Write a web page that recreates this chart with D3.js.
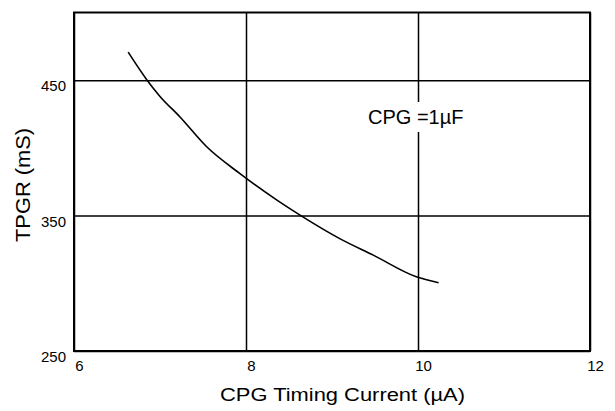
<!DOCTYPE html>
<html>
<head>
<meta charset="utf-8">
<script src="https://cdn.jsdelivr.net/npm/d3@7"></script>
<style>
  body { margin: 0; background: #fff; }
  svg { display: block; font-family: "Liberation Sans", Arial, sans-serif; }
</style>
</head>
<body>
<script>
// data
var currentUA = [6.63, 6.85, 7.0, 7.23, 7.54, 7.93, 8.36, 8.67, 9.09, 9.48, 9.98, 10.24];
var tpgrMs    = [470.7, 450, 438, 423, 401, 381, 361.4, 348.7, 333, 320.8, 304.8, 300.4];
var xTicks = [6, 8, 10, 12];
var yTicks = [250, 350, 450];
var noteText = "CPG =1\u00b5F";

var width = 615, height = 411;
var margin = {top: 12.5, right: 25, bottom: 60, left: 74};
var innerW = width - margin.left - margin.right,
    innerH = height - margin.top - margin.bottom;

var svg = d3.select("body").append("svg")
    .attr("width", width)
    .attr("height", height);

var g = svg.append("g")
    .attr("transform", "translate(" + margin.left + "," + margin.top + ")");

var x = d3.scaleLinear().domain([6, 12]).range([0, innerW]);
var y = d3.scaleLinear().domain([250, 500]).range([innerH, 0]);

// y axis + horizontal grid
var yAxis = g.append("g")
    .call(d3.axisLeft(y).tickValues(yTicks).tickSize(-innerW).tickPadding(8));
yAxis.select(".domain").remove();
yAxis.selectAll("line").attr("stroke", "#000").attr("stroke-width", 1.5);
yAxis.selectAll("text")
    .attr("dy", "0.71em")
    .attr("fill", "#000")
    .style("font-size", "15px");

// x axis + vertical grid
var xAxis = g.append("g")
    .attr("transform", "translate(0," + innerH + ")")
    .call(d3.axisBottom(x).tickValues(xTicks).tickFormat(d3.format("d"))
        .tickSize(-innerH).tickPadding(9));
xAxis.select(".domain").remove();
xAxis.selectAll("line").attr("stroke", "#000").attr("stroke-width", 1.5);
xAxis.selectAll("text")
    .attr("dx", 5)
    .attr("fill", "#000")
    .style("font-size", "15px");

// plot frame
g.append("rect")
    .attr("width", innerW)
    .attr("height", innerH)
    .attr("fill", "none")
    .attr("stroke", "#000")
    .attr("stroke-width", 2);

// the curve
var pts = currentUA.map(function(d, i){ return [d, tpgrMs[i]]; });
var line = d3.line()
    .x(function(d){ return x(d[0]); })
    .y(function(d){ return y(d[1]); })
    .curve(d3.curveMonotoneX);
g.append("path")
    .datum(pts)
    .attr("d", line)
    .attr("fill", "none")
    .attr("stroke", "#000")
    .attr("stroke-width", 1.6);

// annotation with white box over the grid
var noteBg = g.append("rect").attr("fill", "#fff");
var note = g.append("text")
    .attr("x", 368 - margin.left)
    .attr("y", 124 - margin.top)
    .style("font-size", "20px")
    .attr("fill", "#000")
    .text(noteText);
var bb = note.node().getBBox();
noteBg.attr("x", bb.x - 2).attr("y", bb.y - 4)
    .attr("width", bb.width + 4).attr("height", bb.height + 8);

// axis titles
svg.append("text")
    .attr("x", 220)
    .attr("y", 401)
    .attr("textLength", 245)
    .attr("lengthAdjust", "spacingAndGlyphs")
    .style("font-size", "18px")
    .attr("fill", "#000")
    .text("CPG Timing Current (\u00b5A)");

svg.append("text")
    .attr("transform", "translate(30,242) rotate(-90)")
    .attr("textLength", 114)
    .attr("lengthAdjust", "spacingAndGlyphs")
    .style("font-size", "20px")
    .attr("fill", "#000")
    .text("TPGR (mS)");
</script>
</body>
</html>
